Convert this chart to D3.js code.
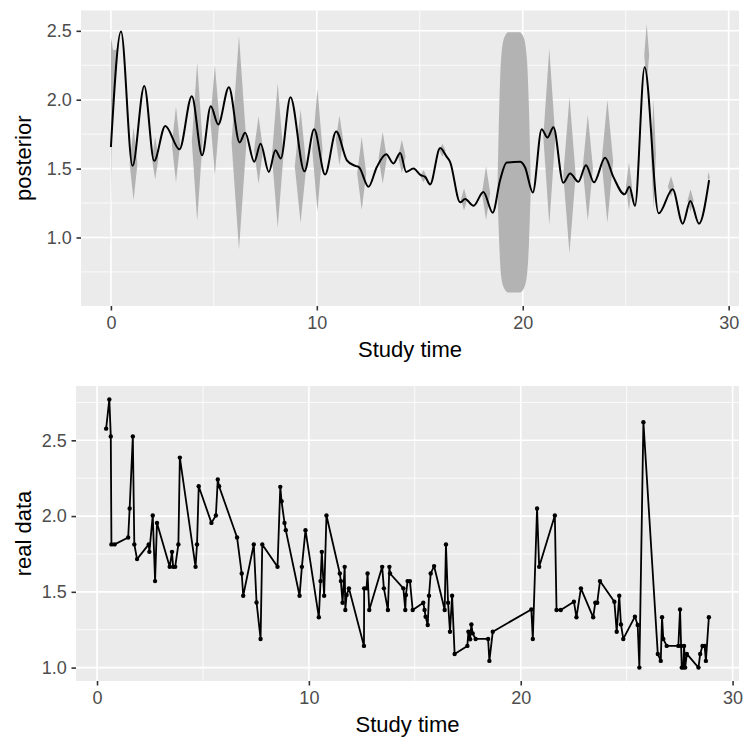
<!DOCTYPE html>
<html>
<head>
<meta charset="utf-8">
<script src="https://cdn.jsdelivr.net/npm/d3@7"></script>
<style>
  body { margin: 0; background: #fff; }
  svg { display: block; font-family: "Liberation Sans", Arial, Helvetica, sans-serif; }
</style>
</head>
<body>
<div id="chart"></div>
<script>
// posterior mean (top panel)
const meanT = [0, 0.49, 1.05, 1.62, 2.10, 2.64, 3.33, 3.93, 4.43, 4.85, 5.21, 5.73, 6.25, 6.52, 6.96, 7.27, 7.67, 7.99, 8.25, 8.72,
  9.40, 9.87, 10.40, 10.94, 11.46, 11.86, 12.05, 12.51, 12.91, 13.37, 13.72, 14.05, 14.34, 14.69, 15.05, 15.26, 15.50, 15.99,
  16.31, 16.47, 16.96, 17.20, 17.61, 18.09, 18.54, 18.90, 19.22, 19.87, 20.11, 20.49, 20.92, 21.20, 21.49, 21.97, 22.30, 22.70,
  23.07, 23.46, 24.00, 24.40, 24.94, 25.18, 25.45, 25.92, 26.60, 27.28, 27.77, 28.14, 28.56, 29.05];
const meanV = [1.657, 2.495, 1.52, 2.10, 1.556, 1.81, 1.64, 2.025, 1.597, 1.953, 1.82, 2.09, 1.69, 1.76, 1.55, 1.68, 1.476, 1.633, 1.573, 2.018,
  1.48, 1.785, 1.457, 1.77, 1.56, 1.52, 1.51, 1.368, 1.51, 1.604, 1.537, 1.614, 1.476, 1.50, 1.452, 1.44, 1.385, 1.65,
  1.585, 1.549, 1.255, 1.279, 1.23, 1.33, 1.18, 1.416, 1.544, 1.549, 1.51, 1.327, 1.785, 1.725, 1.80, 1.397, 1.464, 1.404,
  1.525, 1.40, 1.578, 1.44, 1.313, 1.368, 1.23, 2.235, 1.175, 1.35, 1.10, 1.265, 1.10, 1.416];

// credible band: narrow spikes between observations (centre time, lower, upper, half width)
const spikeT = [1.10, 2.15, 3.16, 4.19, 5.05, 6.22, 7.17, 8.10, 9.21, 10.03, 11.10, 12.18, 13.20, 14.13, 15.18, 16.10, 17.15, 18.22,
  21.29, 22.27, 23.16, 24.11, 25.16, 26.02, 26.35, 27.20, 28.15, 29.03];
const spikeLo = [1.27, 1.42, 1.40, 1.12, 1.452, 0.91, 1.39, 1.07, 1.105, 1.19, 1.525, 1.20, 1.39, 1.466, 1.40, 1.585, 1.195, 1.127,
  1.09, 0.886, 1.12, 1.107, 1.195, 2.10, 1.21, 1.296, 1.187, 1.40];
const spikeHi = [1.80, 1.73, 1.95, 2.27, 2.25, 2.464, 1.88, 2.12, 1.93, 2.08, 1.886, 1.73, 1.765, 1.71, 1.49, 1.68, 1.356, 1.517,
  2.37, 2.02, 1.89, 2.00, 1.544, 2.55, 2.00, 1.445, 1.35, 1.476];
const spikeW = [0.19, 0.16, 0.20, 0.26, 0.22, 0.36, 0.22, 0.28, 0.28, 0.25, 0.18, 0.22, 0.20, 0.18, 0.15, 0.15, 0.15, 0.20,
  0.29, 0.30, 0.25, 0.28, 0.15, 0.12, 0.12, 0.15, 0.15, 0.05];

// credible band: start of the series
const edgeT = [0, 0.04, 0.12, 0.24, 0.34];
const edgeLo = [0.93, 1.70, 1.95, 2.20, 2.40];
const edgeHi = [2.45, 2.42, 2.36, 2.36, 2.40];

// credible band: gap without observations
const gapT = [18.78, 18.86, 18.95, 19.10, 19.30, 19.85, 20.05, 20.20, 20.30, 20.38];
const gapLo = [1.30, 0.95, 0.72, 0.63, 0.60, 0.60, 0.63, 0.72, 0.95, 1.30];
const gapHi = [1.38, 1.95, 2.30, 2.45, 2.49, 2.49, 2.45, 2.30, 1.95, 1.45];

// observed values (bottom panel)
const realT = [0.43, 0.58, 0.65, 0.68, 0.83, 1.47, 1.54, 1.69, 1.76, 1.89, 2.44, 2.47, 2.63, 2.74, 2.83, 3.43, 3.54, 3.59, 3.69, 3.84,
  3.91, 4.65, 4.72, 4.80, 5.40, 5.61, 5.70, 5.76, 6.61, 6.83, 6.90, 7.40, 7.53, 7.72, 7.80, 8.52, 8.65, 8.71, 8.85, 8.91,
  9.56, 9.67, 9.84, 10.47, 10.55, 10.61, 10.72, 10.83, 11.46, 11.51, 11.59, 11.69, 11.72, 11.78, 11.89, 12.60, 12.61, 12.72,
  12.77, 12.85, 13.46, 13.54, 13.73, 13.80, 13.83, 14.46, 14.55, 14.58, 14.66, 14.77, 14.90, 15.40, 15.46, 15.51, 15.61, 15.67,
  15.75, 15.91, 16.41, 16.47, 16.57, 16.66, 16.76, 16.88, 17.48, 17.53, 17.61, 17.67, 17.73, 17.87, 18.46, 18.52, 18.68,
  20.50, 20.57, 20.77, 20.87, 21.61, 21.69, 21.89, 22.51, 22.63, 22.84, 23.42, 23.52, 23.61, 23.74, 24.42, 24.53, 24.65,
  24.73, 24.84, 25.39, 25.52, 25.60, 25.79, 26.47, 26.61, 26.67, 26.73, 26.89, 27.44, 27.52, 27.57, 27.60, 27.67, 27.71,
  27.76, 27.84, 28.39, 28.47, 28.58, 28.68, 28.74, 28.88];
const realV = [2.577, 2.77, 2.526, 1.813, 1.813, 1.859, 2.05, 2.526, 1.813, 1.716, 1.813, 1.764, 2.004, 1.571, 1.955, 1.665, 1.764, 1.665, 1.665, 1.813,
  2.386, 1.665, 1.813, 2.197, 1.955, 2.004, 2.241, 2.197, 1.859, 1.621, 1.474, 1.813, 1.43, 1.189, 1.813, 1.665, 2.193, 2.098, 1.955, 1.907,
  1.474, 1.665, 1.907, 1.332, 1.571, 1.764, 1.474, 2.004, 1.621, 1.571, 1.428, 1.665, 1.38, 1.479, 1.523, 1.143, 1.523, 1.523,
  1.621, 1.38, 1.665, 1.523, 1.38, 1.665, 1.621, 1.523, 1.38, 1.479, 1.571, 1.571, 1.38, 1.428, 1.38, 1.336, 1.281, 1.474,
  1.621, 1.67, 1.38, 1.813, 1.428, 1.237, 1.474, 1.09, 1.143, 1.237, 1.187, 1.285, 1.226, 1.189, 1.189, 1.044, 1.237,
  1.384, 1.189, 2.05, 1.665, 2.004, 1.38, 1.38, 1.435, 1.332, 1.523, 1.332, 1.428, 1.428, 1.571, 1.435, 1.237, 1.474,
  1.285, 1.189, 1.336, 1.281, 1.0, 2.62, 1.09, 1.044, 1.332, 1.189, 1.143, 1.143, 1.384, 1.143, 1.0, 1.0, 1.143,
  1.0, 1.09, 1.0, 1.09, 1.143, 1.143, 1.044, 1.332];

const xTicks = [0, 10, 20, 30];
const yTicks = [1.0, 1.5, 2.0, 2.5];

const svg = d3.select('#chart').append('svg')
  .attr('width', 750)
  .attr('height', 750);

svg.append('rect').attr('width', 750).attr('height', 750).attr('fill', '#fff');

// ggplot style 5% padding
const expand = ([a, b]) => {
  const d = (b - a) * 0.05;
  return [a - d, b + d];
};

const minorOf = (ticks, dom) => {
  const step = ticks[1] - ticks[0];
  return d3.range(ticks[0] - step / 2, ticks[ticks.length - 1] + step, step)
    .filter(v => v > dom[0] && v < dom[1]);
};

const drawPanel = (box, xDom, yDom, yTitle) => {
  const x = d3.scaleLinear().domain(xDom).range([box.left, box.right]);
  const y = d3.scaleLinear().domain(yDom).range([box.bottom, box.top]);

  svg.append('rect')
    .attr('x', box.left).attr('y', box.top)
    .attr('width', box.right - box.left).attr('height', box.bottom - box.top)
    .attr('fill', '#ebebeb');

  const grid = svg.append('g').attr('stroke', '#fff');
  grid.selectAll('.xmin').data(minorOf(xTicks, xDom)).enter().append('line')
    .attr('x1', d => x(d)).attr('x2', d => x(d)).attr('y1', box.top).attr('y2', box.bottom)
    .attr('stroke-width', 0.8);
  grid.selectAll('.ymin').data(minorOf(yTicks, yDom)).enter().append('line')
    .attr('y1', d => y(d)).attr('y2', d => y(d)).attr('x1', box.left).attr('x2', box.right)
    .attr('stroke-width', 0.8);
  grid.selectAll('.xmaj').data(xTicks.filter(v => v > xDom[0] && v < xDom[1])).enter().append('line')
    .attr('x1', d => x(d)).attr('x2', d => x(d)).attr('y1', box.top).attr('y2', box.bottom)
    .attr('stroke-width', 1.6);
  grid.selectAll('.ymaj').data(yTicks.filter(v => v > yDom[0] && v < yDom[1])).enter().append('line')
    .attr('y1', d => y(d)).attr('y2', d => y(d)).attr('x1', box.left).attr('x2', box.right)
    .attr('stroke-width', 1.6);

  const xAxis = svg.append('g')
    .attr('transform', `translate(0,${box.bottom})`)
    .call(d3.axisBottom(x).tickValues(xTicks).tickSize(4.5).tickPadding(6.2));
  const yAxis = svg.append('g')
    .attr('transform', `translate(${box.left},0)`)
    .call(d3.axisLeft(y).tickValues(yTicks).tickSize(4.5).tickPadding(4.8).tickFormat(d3.format('.1f')));

  [xAxis, yAxis].forEach(a => {
    a.select('.domain').remove();
    a.selectAll('.tick line').attr('stroke', '#333').attr('stroke-width', 1.6);
    a.selectAll('.tick text')
      .attr('fill', '#4d4d4d')
      .style('font-size', '18px')
      .style('font-family', '"Liberation Sans", Arial, sans-serif');
  });

  svg.append('text')
    .attr('x', (box.left + box.right) / 2)
    .attr('y', box.bottom + 51)
    .attr('text-anchor', 'middle')
    .style('font-size', '22px')
    .text('Study time');

  svg.append('text')
    .attr('transform', `translate(30.5,${(box.top + box.bottom) / 2}) rotate(-90)`)
    .attr('text-anchor', 'middle')
    .style('font-size', '22px')
    .text(yTitle);

  return { x, y };
};

// top: posterior
const topBox = { left: 81, right: 739, top: 10.5, bottom: 306 };
const postP = drawPanel(
  topBox,
  expand(d3.extent(meanT)),
  expand([d3.min([...spikeLo, ...gapLo, ...edgeLo]), d3.max([...spikeHi, ...gapHi, ...edgeHi])]),
  'posterior'
);

const band = svg.append('g').attr('fill', '#b3b3b3');

const bandArea = d3.area()
  .curve(d3.curveMonotoneX)
  .x(d => postP.x(d.t))
  .y0(d => postP.y(d.lo))
  .y1(d => postP.y(d.hi));

band.append('path')
  .datum(edgeT.map((t, i) => ({ t, lo: edgeLo[i], hi: edgeHi[i] })))
  .attr('d', bandArea);

band.append('path')
  .datum(gapT.map((t, i) => ({ t, lo: gapLo[i], hi: gapHi[i] })))
  .attr('d', bandArea);

// each spike is a lens: pointed at its lower and upper bound
band.selectAll('.spike')
  .data(spikeT.map((t, i) => ({ t, lo: spikeLo[i], hi: spikeHi[i], w: spikeW[i] })))
  .enter()
  .append('path')
  .attr('d', d => {
    const mid = (d.lo + d.hi) / 2;
    return d3.line().curve(d3.curveLinearClosed)([
      [postP.x(d.t - d.w), postP.y(mid)],
      [postP.x(d.t), postP.y(d.hi)],
      [postP.x(d.t + d.w), postP.y(mid)],
      [postP.x(d.t), postP.y(d.lo)]
    ]);
  });

svg.append('path')
  .datum(meanT.map((t, i) => ({ t, v: meanV[i] })))
  .attr('fill', 'none')
  .attr('stroke', '#000')
  .attr('stroke-width', 2)
  .attr('d', d3.line()
    .curve(d3.curveMonotoneX)
    .x(d => postP.x(d.t))
    .y(d => postP.y(d.v)));

// bottom: real data
const botBox = { left: 76, right: 739, top: 386, bottom: 681 };
const realP = drawPanel(
  botBox,
  expand(d3.extent(realT)),
  expand(d3.extent(realV)),
  'real data'
);

const pts = realT.map((t, i) => ({ t, v: realV[i] }));

svg.append('path')
  .datum(pts)
  .attr('fill', 'none')
  .attr('stroke', '#000')
  .attr('stroke-width', 1.8)
  .attr('stroke-linejoin', 'round')
  .attr('d', d3.line()
    .x(d => realP.x(d.t))
    .y(d => realP.y(d.v)));

svg.append('g')
  .selectAll('circle')
  .data(pts)
  .enter()
  .append('circle')
  .attr('cx', d => realP.x(d.t))
  .attr('cy', d => realP.y(d.v))
  .attr('r', 2.2)
  .attr('fill', '#000');
</script>
</body>
</html>
